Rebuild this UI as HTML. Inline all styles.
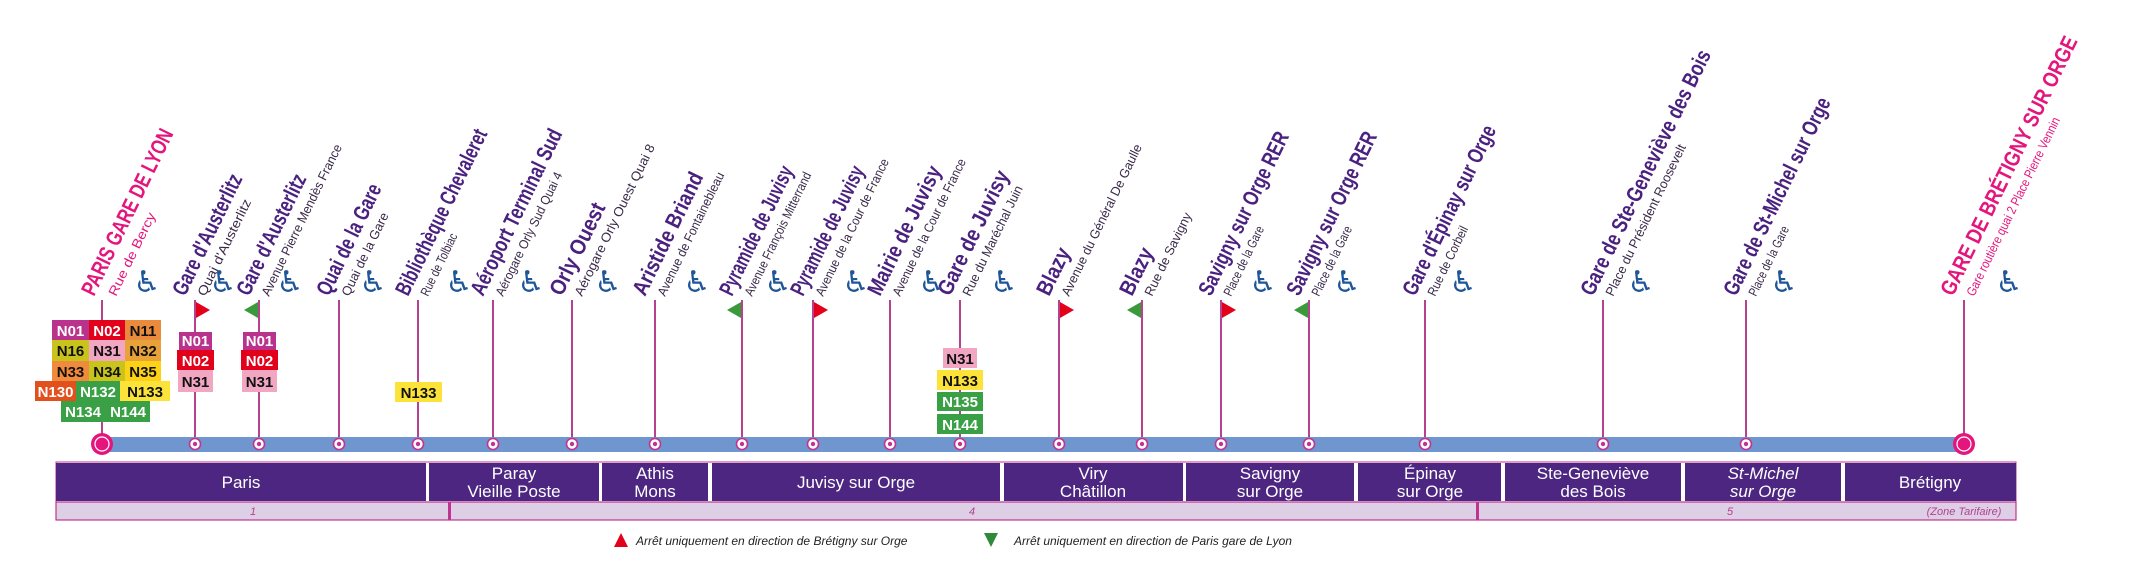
<!DOCTYPE html>
<html><head><meta charset="utf-8"><style>
html,body{margin:0;padding:0;background:#fff;width:2134px;height:580px;overflow:hidden}
svg{display:block}
.t{font-family:"Liberation Sans Narrow","Liberation Sans",sans-serif;font-weight:bold;font-size:22px;fill:#4b2180}
.tp{fill:#e5157e}
.s{font-family:"Liberation Sans Narrow","Liberation Sans",sans-serif;font-size:13px;fill:#3a2a4a}
.sp{fill:#e5157e}
.w{font-family:"DejaVu Sans",sans-serif;font-size:30px;fill:#1f5697}
.b{font-family:"Liberation Sans Narrow","Liberation Sans",sans-serif;font-weight:bold;font-size:15px;text-anchor:middle}
.z{font-family:"Liberation Sans Narrow","Liberation Sans",sans-serif;font-size:17px;fill:#fff;text-anchor:middle}
.zn{font-family:"Liberation Sans",sans-serif;font-style:italic;font-size:11px;fill:#b5418f;text-anchor:middle}
.lg{font-family:"Liberation Sans Narrow","Liberation Sans",sans-serif;font-style:italic;font-size:12px;fill:#222}
</style></head><body>
<svg width="2134" height="580" viewBox="0 0 2134 580" xmlns="http://www.w3.org/2000/svg">
<g stroke="#b5418f" stroke-width="2">
<line x1="102" y1="300" x2="102" y2="444"/><line x1="195" y1="300" x2="195" y2="444"/><line x1="259" y1="300" x2="259" y2="444"/><line x1="339" y1="300" x2="339" y2="444"/><line x1="418" y1="300" x2="418" y2="444"/><line x1="493" y1="300" x2="493" y2="444"/><line x1="572" y1="300" x2="572" y2="444"/><line x1="655" y1="300" x2="655" y2="444"/><line x1="742" y1="300" x2="742" y2="444"/><line x1="813" y1="300" x2="813" y2="444"/><line x1="890" y1="300" x2="890" y2="444"/><line x1="960" y1="300" x2="960" y2="444"/><line x1="1059" y1="300" x2="1059" y2="444"/><line x1="1142" y1="300" x2="1142" y2="444"/><line x1="1221" y1="300" x2="1221" y2="444"/><line x1="1309" y1="300" x2="1309" y2="444"/><line x1="1425" y1="300" x2="1425" y2="444"/><line x1="1603" y1="300" x2="1603" y2="444"/><line x1="1746" y1="300" x2="1746" y2="444"/><line x1="1964" y1="300" x2="1964" y2="444"/>
</g>
<g>
<text class="t tp" transform="translate(94,297) rotate(-64)" textLength="182" lengthAdjust="spacingAndGlyphs">PARIS GARE DE LYON</text>
<text class="s sp" transform="translate(116,297) rotate(-64)" textLength="91" lengthAdjust="spacingAndGlyphs">Rue de Bercy</text>
<text class="t" transform="translate(185,297) rotate(-64)" textLength="132" lengthAdjust="spacingAndGlyphs">Gare d'Austerlitz</text>
<text class="s" transform="translate(205,297) rotate(-64)" textLength="106" lengthAdjust="spacingAndGlyphs">Quai d'Austerlitz</text>
<text class="t" transform="translate(249,297) rotate(-64)" textLength="132" lengthAdjust="spacingAndGlyphs">Gare d'Austerlitz</text>
<text class="s" transform="translate(269,297) rotate(-64)" textLength="167" lengthAdjust="spacingAndGlyphs">Avenue Pierre Mendès France</text>
<text class="t" transform="translate(329,297) rotate(-64)" textLength="121" lengthAdjust="spacingAndGlyphs">Quai de la Gare</text>
<text class="s" transform="translate(349,297) rotate(-64)" textLength="91" lengthAdjust="spacingAndGlyphs">Quai de la Gare</text>
<text class="t" transform="translate(408,297) rotate(-64)" textLength="182" lengthAdjust="spacingAndGlyphs">Bibliothèque Chevaleret</text>
<text class="s" transform="translate(428,297) rotate(-64)" textLength="68" lengthAdjust="spacingAndGlyphs">Rue de Tolbiac</text>
<text class="t" transform="translate(483,297) rotate(-64)" textLength="182" lengthAdjust="spacingAndGlyphs">Aéroport Terminal Sud</text>
<text class="s" transform="translate(503,297) rotate(-64)" textLength="136" lengthAdjust="spacingAndGlyphs">Aérogare Orly Sud Quai 4</text>
<text class="t" transform="translate(562,297) rotate(-64)" textLength="100" lengthAdjust="spacingAndGlyphs">Orly Ouest</text>
<text class="s" transform="translate(582,297) rotate(-64)" textLength="167" lengthAdjust="spacingAndGlyphs">Aérogare Orly Ouest Quai 8</text>
<text class="t" transform="translate(645,297) rotate(-64)" textLength="134" lengthAdjust="spacingAndGlyphs">Aristide Briand</text>
<text class="s" transform="translate(665,297) rotate(-64)" textLength="136" lengthAdjust="spacingAndGlyphs">Avenue de Fontainebleau</text>
<text class="t" transform="translate(732,297) rotate(-64)" textLength="141" lengthAdjust="spacingAndGlyphs">Pyramide de Juvisy</text>
<text class="s" transform="translate(752,297) rotate(-64)" textLength="136" lengthAdjust="spacingAndGlyphs">Avenue François Mitterrand</text>
<text class="t" transform="translate(803,297) rotate(-64)" textLength="141" lengthAdjust="spacingAndGlyphs">Pyramide de Juvisy</text>
<text class="s" transform="translate(823,297) rotate(-64)" textLength="151" lengthAdjust="spacingAndGlyphs">Avenue de la Cour de France</text>
<text class="t" transform="translate(880,297) rotate(-64)" textLength="141" lengthAdjust="spacingAndGlyphs">Mairie de Juvisy</text>
<text class="s" transform="translate(900,297) rotate(-64)" textLength="151" lengthAdjust="spacingAndGlyphs">Avenue de la Cour de France</text>
<text class="t" transform="translate(950,297) rotate(-64)" textLength="136" lengthAdjust="spacingAndGlyphs">Gare de Juvisy</text>
<text class="s" transform="translate(970,297) rotate(-64)" textLength="121" lengthAdjust="spacingAndGlyphs">Rue du Maréchal Juin</text>
<text class="t" transform="translate(1049,297) rotate(-64)" textLength="50" lengthAdjust="spacingAndGlyphs">Blazy</text>
<text class="s" transform="translate(1069,297) rotate(-64)" textLength="167" lengthAdjust="spacingAndGlyphs">Avenue du Général De Gaulle</text>
<text class="t" transform="translate(1132,297) rotate(-64)" textLength="50" lengthAdjust="spacingAndGlyphs">Blazy</text>
<text class="s" transform="translate(1152,297) rotate(-64)" textLength="91" lengthAdjust="spacingAndGlyphs">Rue de Savigny</text>
<text class="t" transform="translate(1211,297) rotate(-64)" textLength="179" lengthAdjust="spacingAndGlyphs">Savigny sur Orge RER</text>
<text class="s" transform="translate(1231,297) rotate(-64)" textLength="76" lengthAdjust="spacingAndGlyphs">Place de la Gare</text>
<text class="t" transform="translate(1299,297) rotate(-64)" textLength="179" lengthAdjust="spacingAndGlyphs">Savigny sur Orge RER</text>
<text class="s" transform="translate(1319,297) rotate(-64)" textLength="76" lengthAdjust="spacingAndGlyphs">Place de la Gare</text>
<text class="t" transform="translate(1415,297) rotate(-64)" textLength="186" lengthAdjust="spacingAndGlyphs">Gare d'Épinay sur Orge</text>
<text class="s" transform="translate(1435,297) rotate(-64)" textLength="76" lengthAdjust="spacingAndGlyphs">Rue de Corbeil</text>
<text class="t" transform="translate(1593,297) rotate(-64)" textLength="270" lengthAdjust="spacingAndGlyphs">Gare de Ste-Geneviève des Bois</text>
<text class="s" transform="translate(1613,297) rotate(-64)" textLength="167" lengthAdjust="spacingAndGlyphs">Place du Président Roosevelt</text>
<text class="t" transform="translate(1736,297) rotate(-64)" textLength="217" lengthAdjust="spacingAndGlyphs">Gare de St-Michel sur Orge</text>
<text class="s" transform="translate(1756,297) rotate(-64)" textLength="76" lengthAdjust="spacingAndGlyphs">Place de la Gare</text>
<text class="t tp" transform="translate(1953,297) rotate(-64)" textLength="285" lengthAdjust="spacingAndGlyphs">GARE DE BRÉTIGNY SUR ORGE</text>
<text class="s sp" transform="translate(1974,297) rotate(-64)" textLength="197" lengthAdjust="spacingAndGlyphs">Gare routière quai 2 Place Pierre Vennin</text>
</g>
<g class="w" text-anchor="middle">
<text x="147" y="292">♿</text><text x="223" y="292">♿</text><text x="290" y="292">♿</text><text x="373" y="292">♿</text><text x="459" y="292">♿</text><text x="531" y="292">♿</text><text x="608" y="292">♿</text><text x="697" y="292">♿</text><text x="778" y="292">♿</text><text x="856" y="292">♿</text><text x="932" y="292">♿</text><text x="1004" y="292">♿</text><text x="1263" y="292">♿</text><text x="1347" y="292">♿</text><text x="1463" y="292">♿</text><text x="1641" y="292">♿</text><text x="1784" y="292">♿</text><text x="2009" y="292">♿</text>
</g>
<g>
<polygon points="196,302 210,310 196,318" fill="#e2001a"/>
<polygon points="258,302 244,310 258,318" fill="#3a9a3a"/>
<polygon points="741,302 727,310 741,318" fill="#3a9a3a"/>
<polygon points="814,302 828,310 814,318" fill="#e2001a"/>
<polygon points="1060,302 1074,310 1060,318" fill="#e2001a"/>
<polygon points="1141,302 1127,310 1141,318" fill="#3a9a3a"/>
<polygon points="1222,302 1236,310 1222,318" fill="#e2001a"/>
<polygon points="1308,302 1294,310 1308,318" fill="#3a9a3a"/>
</g>
<g>
<rect x="52" y="320" width="37" height="20" fill="#b9338d"/><text class="b" x="70.5" y="336" fill="#fff">N01</text>
<rect x="89" y="320" width="36" height="20" fill="#e2001a"/><text class="b" x="107" y="336" fill="#fff">N02</text>
<rect x="125" y="320" width="36" height="20" fill="#e98a3c"/><text class="b" x="143" y="336" fill="#111">N11</text>
<rect x="52" y="340" width="37" height="21" fill="#c8c41c"/><text class="b" x="70.5" y="356" fill="#111">N16</text>
<rect x="89" y="340" width="36" height="21" fill="#f1a6c2"/><text class="b" x="107" y="356" fill="#111">N31</text>
<rect x="125" y="340" width="36" height="21" fill="#e9a13a"/><text class="b" x="143" y="356" fill="#111">N32</text>
<rect x="52" y="361" width="37" height="20" fill="#f08a3c"/><text class="b" x="70.5" y="377" fill="#111">N33</text>
<rect x="89" y="361" width="36" height="20" fill="#c8c41c"/><text class="b" x="107" y="377" fill="#111">N34</text>
<rect x="125" y="361" width="36" height="20" fill="#fcd116"/><text class="b" x="143" y="377" fill="#111">N35</text>
<rect x="35" y="381" width="41" height="20" fill="#e2501e"/><text class="b" x="55.5" y="397" fill="#fff">N130</text>
<rect x="76" y="381" width="44" height="20" fill="#3aa046"/><text class="b" x="98" y="397" fill="#fff">N132</text>
<rect x="120" y="381" width="50" height="20" fill="#fce33a"/><text class="b" x="145" y="397" fill="#111">N133</text>
<rect x="61" y="401" width="89" height="21" fill="#3aa046"/><text class="b" x="83" y="417" fill="#fff">N134</text><text class="b" x="128" y="417" fill="#fff">N144</text>
</g>
<g>
<rect x="179" y="332" width="33" height="18" fill="#b9338d"/><text class="b" x="195.5" y="346" fill="#fff">N01</text>
<rect x="177" y="350" width="37" height="20" fill="#e2001a"/><text class="b" x="195.5" y="366" fill="#fff">N02</text>
<rect x="178" y="370" width="35" height="22" fill="#f1a6c2"/><text class="b" x="195.5" y="387" fill="#111">N31</text>
<rect x="243" y="332" width="33" height="18" fill="#b9338d"/><text class="b" x="259.5" y="346" fill="#fff">N01</text>
<rect x="241" y="350" width="37" height="20" fill="#e2001a"/><text class="b" x="259.5" y="366" fill="#fff">N02</text>
<rect x="242" y="370" width="35" height="22" fill="#f1a6c2"/><text class="b" x="259.5" y="387" fill="#111">N31</text>
<rect x="395" y="382" width="47" height="20" fill="#fce33a"/><text class="b" x="418.5" y="398" fill="#111">N133</text>
<rect x="943" y="348" width="34" height="20" fill="#f1a6c2"/><text class="b" x="960" y="364" fill="#111">N31</text>
<rect x="937" y="370" width="46" height="20" fill="#fce33a"/><text class="b" x="960" y="386" fill="#111">N133</text>
<rect x="937" y="392" width="46" height="19" fill="#3aa046"/><text class="b" x="960" y="407" fill="#fff">N135</text>
<rect x="937" y="414" width="46" height="20" fill="#3aa046"/><text class="b" x="960" y="430" fill="#fff">N144</text>
</g>
<rect x="102" y="437" width="1862" height="15" fill="#6f96cf"/>
<g fill="#fff" stroke="#c0348f" stroke-width="1.6">
<circle cx="195" cy="444" r="5.5"/><circle cx="259" cy="444" r="5.5"/><circle cx="339" cy="444" r="5.5"/><circle cx="418" cy="444" r="5.5"/><circle cx="493" cy="444" r="5.5"/><circle cx="572" cy="444" r="5.5"/><circle cx="655" cy="444" r="5.5"/><circle cx="742" cy="444" r="5.5"/><circle cx="813" cy="444" r="5.5"/><circle cx="890" cy="444" r="5.5"/><circle cx="960" cy="444" r="5.5"/><circle cx="1059" cy="444" r="5.5"/><circle cx="1142" cy="444" r="5.5"/><circle cx="1221" cy="444" r="5.5"/><circle cx="1309" cy="444" r="5.5"/><circle cx="1425" cy="444" r="5.5"/><circle cx="1603" cy="444" r="5.5"/><circle cx="1746" cy="444" r="5.5"/>
</g>
<g fill="#c0348f">
<circle cx="195" cy="444" r="2.2"/><circle cx="259" cy="444" r="2.2"/><circle cx="339" cy="444" r="2.2"/><circle cx="418" cy="444" r="2.2"/><circle cx="493" cy="444" r="2.2"/><circle cx="572" cy="444" r="2.2"/><circle cx="655" cy="444" r="2.2"/><circle cx="742" cy="444" r="2.2"/><circle cx="813" cy="444" r="2.2"/><circle cx="890" cy="444" r="2.2"/><circle cx="960" cy="444" r="2.2"/><circle cx="1059" cy="444" r="2.2"/><circle cx="1142" cy="444" r="2.2"/><circle cx="1221" cy="444" r="2.2"/><circle cx="1309" cy="444" r="2.2"/><circle cx="1425" cy="444" r="2.2"/><circle cx="1603" cy="444" r="2.2"/><circle cx="1746" cy="444" r="2.2"/>
</g>
<circle cx="102" cy="444" r="11" fill="#e5157e"/><circle cx="102" cy="444" r="7" fill="none" stroke="#fff" stroke-width="1.2"/>
<circle cx="1964" cy="444" r="11" fill="#e5157e"/><circle cx="1964" cy="444" r="7" fill="none" stroke="#fff" stroke-width="1.2"/>
<rect x="56" y="462" width="1960" height="40" fill="#fff" stroke="#c0348f" stroke-width="1"/>
<g fill="#4c2680">
<rect x="56" y="463" width="370" height="38"/><rect x="429" y="463" width="170" height="38"/><rect x="602" y="463" width="106" height="38"/><rect x="712" y="463" width="288" height="38"/><rect x="1004" y="463" width="179" height="38"/><rect x="1186" y="463" width="168" height="38"/><rect x="1358" y="463" width="143" height="38"/><rect x="1505" y="463" width="176" height="38"/><rect x="1685" y="463" width="156" height="38"/><rect x="1845" y="463" width="171" height="38"/>
</g>
<g class="z">
<text x="241" y="488">Paris</text>
<text x="514" y="479">Paray</text><text x="514" y="497">Vieille Poste</text>
<text x="655" y="479">Athis</text><text x="655" y="497">Mons</text>
<text x="856" y="488">Juvisy sur Orge</text>
<text x="1093" y="479">Viry</text><text x="1093" y="497">Châtillon</text>
<text x="1270" y="479">Savigny</text><text x="1270" y="497">sur Orge</text>
<text x="1430" y="479">Épinay</text><text x="1430" y="497">sur Orge</text>
<text x="1593" y="479">Ste-Geneviève</text><text x="1593" y="497">des Bois</text>
<text x="1763" y="479" font-style="italic">St-Michel</text><text x="1763" y="497" font-style="italic">sur Orge</text>
<text x="1930" y="488">Brétigny</text>
</g>
<rect x="56" y="502" width="1960" height="18" fill="#dccfe6" stroke="#c0348f" stroke-width="1.2"/>
<rect x="448" y="502" width="3" height="18" fill="#c0348f"/>
<rect x="1476" y="502" width="3" height="18" fill="#c0348f"/>
<g class="zn">
<text x="253" y="515">1</text><text x="972" y="515">4</text><text x="1730" y="515">5</text><text x="1964" y="515">(Zone Tarifaire)</text>
</g>
<polygon points="621,533 628,547 614,547" fill="#e2001a"/>
<text class="lg" x="636" y="545">Arrêt uniquement en direction de Brétigny sur Orge</text>
<polygon points="984,533 998,533 991,547" fill="#2e8b3a"/>
<text class="lg" x="1014" y="545">Arrêt uniquement en direction de Paris gare de Lyon</text>
</svg>
</body></html>
